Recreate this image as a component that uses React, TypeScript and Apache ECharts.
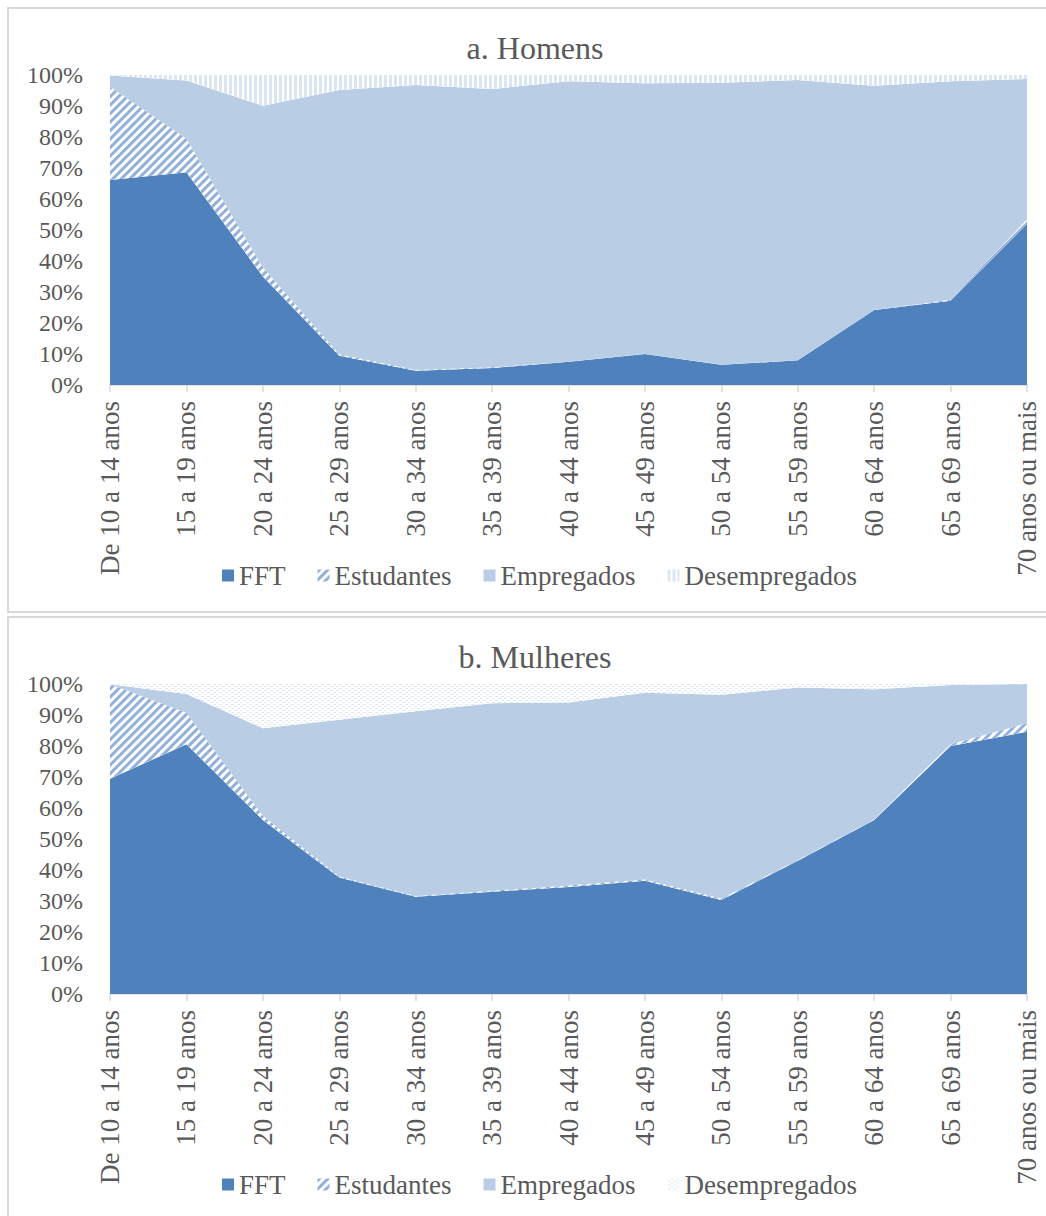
import React, { useEffect, useRef } from "react";
import * as echarts from "echarts";

const categories = [
  "De 10 a 14 anos",
  "15 a 19 anos",
  "20 a 24 anos",
  "25 a 29 anos",
  "30 a 34 anos",
  "35 a 39 anos",
  "40 a 44 anos",
  "45 a 49 anos",
  "50 a 54 anos",
  "55 a 59 anos",
  "60 a 64 anos",
  "65 a 69 anos",
  "70 anos ou mais",
];

const yTicks = [0, 10, 20, 30, 40, 50, 60, 70, 80, 90, 100];

// a. Homens (%)
const homensFFT = [66.1, 68.6, 35.0, 9.4, 4.6, 5.5, 7.5, 10.0, 6.5, 8.0, 24.2, 27.2, 52.0];
const homensEstudantes = [30.1, 10.8, 3.0, 0.5, 0.2, 0.2, 0.1, 0.1, 0.1, 0.1, 0.1, 0.3, 1.5];
const homensEmpregados = [3.6, 18.8, 52.1, 85.3, 92.0, 89.8, 90.4, 87.2, 90.9, 90.3, 72.2, 70.5, 45.2];
const homensDesempregados = [0.2, 1.8, 9.9, 4.8, 3.2, 4.5, 2.0, 2.7, 2.5, 1.6, 3.5, 2.0, 1.3];

// b. Mulheres (%)
const mulheresFFT = [69.4, 80.6, 56.1, 37.6, 31.4, 33.0, 34.5, 36.5, 30.3, 43.0, 56.1, 80.0, 84.6];
const mulheresEstudantes = [30.5, 10.1, 1.4, 0.3, 0.2, 0.3, 0.5, 0.4, 0.5, 0.2, 0.2, 0.6, 2.7];
const mulheresEmpregados = [0.0, 6.1, 28.2, 50.6, 59.6, 60.5, 59.0, 60.3, 65.7, 55.7, 42.0, 19.1, 12.7];
const mulheresDesempregados = [0.1, 3.2, 14.3, 11.5, 8.8, 6.2, 6.0, 2.8, 3.5, 1.1, 1.7, 0.3, 0.0];

const seriesNames = ["FFT", "Estudantes", "Empregados", "Desempregados"];

const FONT = "Liberation Serif";
const TEXT = "#595959";
const C_FFT = "#4f81bd";
const C_EST = "#92b0d9";
const C_EMP = "#b9cde5";
const C_DES = "#dce6f2";

function buildOption(
  title: string,
  fft: number[],
  est: number[],
  emp: number[],
  des: number[],
  desDecal: any
) {
  const base = {
    type: "line",
    stack: "total",
    symbol: "none",
    showSymbol: false,
    lineStyle: { width: 0, opacity: 0 },
    emphasis: { disabled: true },
    silent: true,
  };
  return {
    animation: false,
    textStyle: { fontFamily: FONT },
    graphic: [
      {
        type: "text",
        x: 526,
        y: 39,
        style: {
          text: title,
          textAlign: "center",
          textVerticalAlign: "middle",
          font: "32px Liberation Serif",
          fill: TEXT,
        },
      },
    ],
    legend: {
      left: 208,
      top: 548,
      icon: "rect",
      itemWidth: 12,
      itemHeight: 12,
      itemGap: 32,
      data: seriesNames,
      textStyle: { fontFamily: FONT, fontSize: 27, color: TEXT },
    },
    grid: { left: 101, top: 66, width: 917, height: 310, containLabel: false },
    xAxis: {
      type: "category",
      data: categories,
      boundaryGap: false,
      axisLine: { show: true, lineStyle: { color: "#d9d9d9", width: 1.5 } },
      axisTick: { show: true, interval: 0, length: 7, lineStyle: { color: "#d9d9d9", width: 1.5 } },
      axisLabel: {
        interval: 0,
        rotate: 90,
        margin: 16,
        fontFamily: FONT,
        fontSize: 27,
        color: TEXT,
      },
      splitLine: { show: false },
    },
    yAxis: {
      type: "value",
      min: yTicks[0],
      max: yTicks[yTicks.length - 1],
      interval: 10,
      axisLine: { show: false },
      axisTick: { show: false },
      splitLine: { show: false },
      axisLabel: {
        margin: 27,
        fontFamily: FONT,
        fontSize: 24,
        color: TEXT,
        formatter: "{value}%",
      },
    },
    series: [
      {
        ...base,
        name: "FFT",
        data: fft,
        itemStyle: { color: C_FFT },
        areaStyle: { color: C_FFT, opacity: 1 },
      },
      {
        ...base,
        name: "Estudantes",
        data: est,
        itemStyle: {
          color: "#ffffff",
          decal: {
            symbol: "rect",
            symbolSize: 1,
            color: C_EST,
            dashArrayX: [1, 0],
            dashArrayY: [3, 3],
            rotation: -Math.PI / 4,
          },
        },
        areaStyle: { opacity: 1 },
      },
      {
        ...base,
        name: "Empregados",
        data: emp,
        itemStyle: { color: C_EMP },
        areaStyle: { color: C_EMP, opacity: 1 },
      },
      {
        ...base,
        name: "Desempregados",
        data: des,
        itemStyle: { color: "#ffffff", decal: desDecal },
        areaStyle: { opacity: 1 },
      },
    ],
  };
}

const decalStripes = {
  symbol: "rect",
  symbolSize: 1,
  color: C_DES,
  dashArrayX: [3, 2],
  dashArrayY: [1, 0],
  rotation: 0,
};

const decalWaves = {
  symbol: "rect",
  symbolSize: 1,
  color: "#e1e8f3",
  dashArrayX: [
    [3, 3],
    [0, 3, 3, 0],
  ],
  dashArrayY: [1, 1],
  rotation: 0,
};

function Panel(props: { top: number; height: number; option: any }) {
  const ref = useRef<HTMLDivElement>(null);
  useEffect(() => {
    if (!ref.current) return;
    const chart = echarts.init(ref.current, null, { renderer: "svg" });
    chart.setOption(props.option);
    return () => chart.dispose();
  }, []);
  return (
    <div
      style={{
        position: "absolute",
        left: 7,
        top: props.top,
        width: 1050,
        height: props.height,
        border: "2px solid #d9d9d9",
        boxSizing: "border-box",
        background: "#ffffff",
      }}
    >
      <div ref={ref} style={{ width: 1046, height: props.height - 4 }} />
    </div>
  );
}

export default function App() {
  const optA = buildOption(
    "a. Homens",
    homensFFT,
    homensEstudantes,
    homensEmpregados,
    homensDesempregados,
    decalStripes
  );
  const optB = buildOption(
    "b. Mulheres",
    mulheresFFT,
    mulheresEstudantes,
    mulheresEmpregados,
    mulheresDesempregados,
    decalWaves
  );
  return (
    <div
      style={{
        position: "absolute",
        left: 0,
        top: 0,
        width: 1046,
        height: 1216,
        overflow: "hidden",
        background: "#ffffff",
      }}
    >
      <Panel top={7} height={606} option={optA} />
      <Panel top={616} height={620} option={optB} />
    </div>
  );
}
